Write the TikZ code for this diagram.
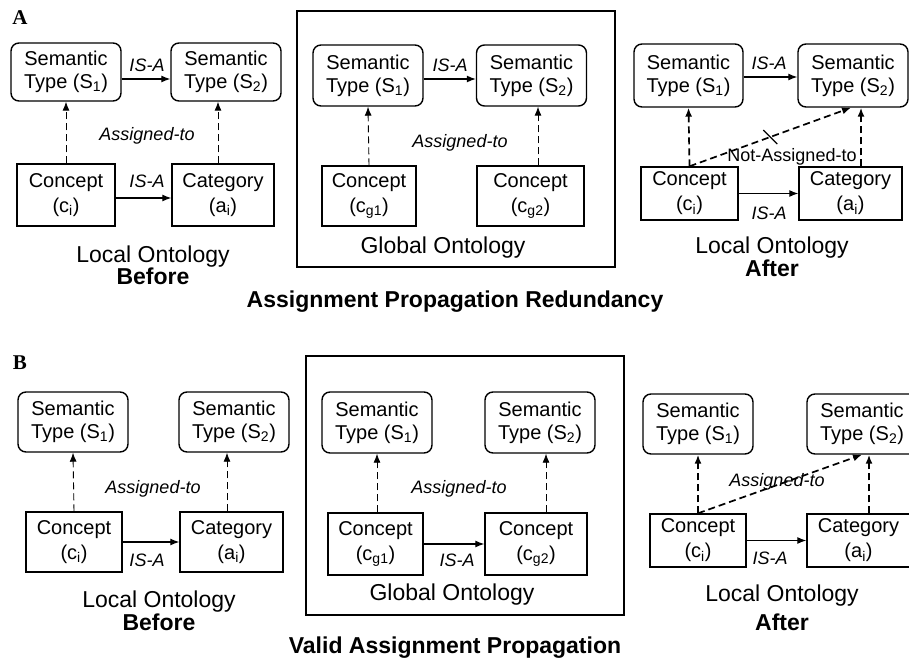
\documentclass[tikz,border=0pt]{standalone}
\usepackage{fontspec}
\setmainfont{Liberation Sans}
\newfontfamily\panelfont{Liberation Serif}
\usetikzlibrary{arrows.meta,calc}

\begin{document}
\begin{tikzpicture}[x=1pt, y=-1pt, >={Latex[length=9pt,width=7pt]},
    semtype/.style={draw, line width=1.4pt, rounded corners=8pt, align=center, inner sep=0pt,
        minimum width=110pt, minimum height=58pt, font=\fontsize{20}{23}\selectfont},
    conbox/.style={draw, line width=1.4pt, align=center, inner sep=0pt,
        minimum height=60pt, font=\fontsize{20}{25}\selectfont},
    relname/.style={font=\fontsize{18}{20}\selectfont\itshape},
    caption/.style={font=\fontsize{23}{26}\selectfont},
    panel/.style={font=\fontsize{21}{24}\selectfont\panelfont\bfseries},
    isa/.style={->, line width=1.2pt},
    assign/.style={->, line width=0.9pt, dash pattern=on 7pt off 4pt},
    assignnew/.style={->, line width=1.7pt, dash pattern=on 7pt off 4pt},
]
    \clip (0,0) rectangle (909,663);

    % ---------------- A: redundancy ----------------
    \node[panel] (labA) at (20,18) {A};

    % local ontology, before
    \node[semtype] (s1A) at (66,72) {Semantic\\Type (S\textsubscript{1})};
    \node[semtype] (s2A) at (226,72) {Semantic\\Type (S\textsubscript{2})};
    \node[conbox, minimum width=98pt, minimum height=62pt] (ciA) at (66,195) {Concept\\(c\textsubscript{i})};
    \node[conbox, minimum width=102pt, minimum height=62pt] (aiA) at (223,195) {Category\\(a\textsubscript{i})};
    \draw[isa] ($(s1A.east)+(0,7)$) -- ($(s2A.west)+(0,7)$);
    \draw[isa] ($(ciA.east)+(0,3)$) -- ($(aiA.west)+(0,3)$);
    \draw[assign] (ciA.north) -- (s1A.south);
    \draw[assign] ($(aiA.north)+(-5,0)$) -- ($(s2A.south)+(-8,0)$);
    \node[relname] (isaA1) at (147,65) {IS-A};
    \node[relname] (isaA2) at (147,181) {IS-A};
    \node[relname] (asgA) at (147,136) {Assigned-to};
    \node[caption] (locA) at (153,257) {Local Ontology};
    \node[caption, font=\fontsize{23}{26}\selectfont\bfseries] (befA) at (153,276) {Before};

    % global ontology
    \draw[line width=1.4pt] (297,11) rectangle (615,267);
    \node[semtype, minimum height=61pt] (s1gA) at (368,75.5) {Semantic\\Type (S\textsubscript{1})};
    \node[semtype, minimum height=61pt] (s2gA) at (531.5,75.5) {Semantic\\Type (S\textsubscript{2})};
    \node[conbox, minimum width=94pt] (cg1A) at (369,196) {Concept\\(c\textsubscript{g1})};
    \node[conbox, minimum width=107pt] (cg2A) at (530.5,196) {Concept\\(c\textsubscript{g2})};
    \draw[isa] ($(s1gA.east)+(0,3.5)$) -- ($(s2gA.west)+(0,3.5)$);
    \draw[assign] (cg1A.north) -- (s1gA.south);
    \draw[assign] ($(cg2A.north)+(7.5,0)$) -- ($(s2gA.south)+(6.5,0)$);
    \node[relname] (isagA) at (450,65) {IS-A};
    \node[relname] (asggA) at (460,143) {Assigned-to};
    \node[caption] (gloA) at (443,248) {Global Ontology};

    % local ontology, after
    \node[semtype, minimum width=109pt, minimum height=63pt] (s1aA) at (688.5,75.5) {Semantic\\Type (S\textsubscript{1})};
    \node[semtype, minimum height=63pt] (s2aA) at (853,75.5) {Semantic\\Type (S\textsubscript{2})};
    \node[conbox, minimum width=97pt, minimum height=53pt] (ciaA) at (689.5,193.5) {Concept\\(c\textsubscript{i})};
    \node[conbox, minimum width=103pt, minimum height=53pt] (aiaA) at (850.5,193.5) {Category\\(a\textsubscript{i})};
    \draw[isa] ($(s1aA.east)+(0,1.5)$) -- ($(s2aA.west)+(0,1.5)$);
    \draw[isa] (ciaA.east) -- (aiaA.west);
    \draw[assignnew] (ciaA.north) -- (s1aA.south);
    \draw[assignnew] ($(aiaA.north)+(10.5,0)$) -- ($(s2aA.south)+(8,0)$);
    \draw[assignnew] (ciaA.north) -- coordinate[pos=0.5] (notA) ($(s2aA.south)+(-2,0)$);
    \draw[line width=1.2pt] ($(notA)+(-7,-7)$) -- ($(notA)+(7,7)$);
    \node[relname] (isaaA1) at (769,63) {IS-A};
    \node[relname] (isaaA2) at (769,213) {IS-A};
    \node[relname, font=\fontsize{18}{20}\selectfont] (notasgA) at (792,157) {Not-Assigned-to};
    \node[caption] (locaA) at (772,248) {Local Ontology};
    \node[caption, font=\fontsize{23}{26}\selectfont\bfseries] (aftA) at (772,268) {After};

    \node[caption, font=\fontsize{23}{26}\selectfont\bfseries] (titleA) at (455,302) {Assignment Propagation Redundancy};

    % ---------------- B: valid propagation ----------------
    \node[panel] (labB) at (20,363) {B};

    % local ontology, before
    \node[semtype, minimum height=60pt] (s1B) at (73,422) {Semantic\\Type (S\textsubscript{1})};
    \node[semtype, minimum height=60pt] (s2B) at (234,422) {Semantic\\Type (S\textsubscript{2})};
    \node[conbox, minimum width=96pt] (ciB) at (74,542) {Concept\\(c\textsubscript{i})};
    \node[conbox, minimum width=103pt] (aiB) at (231.5,542) {Category\\(a\textsubscript{i})};
    \draw[isa] (ciB.east) -- (aiB.west);
    \draw[assign] (ciB.north) -- (s1B.south);
    \draw[assign] ($(aiB.north)+(-4.5,0)$) -- ($(s2B.south)+(-7,0)$);
    \node[relname] (isaB) at (147,560) {IS-A};
    \node[relname] (asgB) at (153,489) {Assigned-to};
    \node[caption] (locB) at (159,602) {Local Ontology};
    \node[caption, font=\fontsize{23}{26}\selectfont\bfseries] (befB) at (159,622) {Before};

    % global ontology
    \draw[line width=1.4pt] (306,356) rectangle (624,615);
    \node[semtype, minimum height=61pt] (s1gB) at (377,422.5) {Semantic\\Type (S\textsubscript{1})};
    \node[semtype, minimum height=61pt] (s2gB) at (540,422.5) {Semantic\\Type (S\textsubscript{2})};
    \node[conbox, minimum width=95pt, minimum height=62pt] (cg1B) at (375.5,544) {Concept\\(c\textsubscript{g1})};
    \node[conbox, minimum width=102pt, minimum height=62pt] (cg2B) at (536,544) {Concept\\(c\textsubscript{g2})};
    \draw[isa] (cg1B.east) -- (cg2B.west);
    \draw[assign] ($(cg1B.north)+(1.5,0)$) -- (s1gB.south);
    \draw[assign] ($(cg2B.north)+(10,0)$) -- ($(s2gB.south)+(6,0)$);
    \node[relname] (isagB) at (457,560) {IS-A};
    \node[relname] (asggB) at (459,489) {Assigned-to};
    \node[caption] (gloB) at (452,595) {Global Ontology};

    % local ontology, after
    \node[semtype, minimum height=60pt] (s1aB) at (698,424) {Semantic\\Type (S\textsubscript{1})};
    \node[semtype, minimum height=60pt] (s2aB) at (862,424) {Semantic\\Type (S\textsubscript{2})};
    \node[conbox, minimum width=96pt, minimum height=53pt] (ciaB) at (698,540.5) {Concept\\(c\textsubscript{i})};
    \node[conbox, minimum width=103pt, minimum height=53pt] (aiaB) at (858.5,540.5) {Category\\(a\textsubscript{i})};
    \draw[isa] (ciaB.east) -- (aiaB.west);
    \draw[assignnew] (ciaB.north) -- (s1aB.south);
    \draw[assignnew] ($(aiaB.north)+(10.5,0)$) -- ($(s2aB.south)+(7,0)$);
    \draw[assignnew] (ciaB.north) -- (s2aB.south);
    \node[relname] (isaaB) at (770,558) {IS-A};
    \node[relname] (asgaB) at (777,482) {Assigned-to};
    \node[caption] (locaB) at (782,596) {Local Ontology};
    \node[caption, font=\fontsize{23}{26}\selectfont\bfseries] (aftB) at (782,622) {After};

    \node[caption, font=\fontsize{23}{26}\selectfont\bfseries] (titleB) at (455,648) {Valid Assignment Propagation};
\end{tikzpicture}
\end{document}
